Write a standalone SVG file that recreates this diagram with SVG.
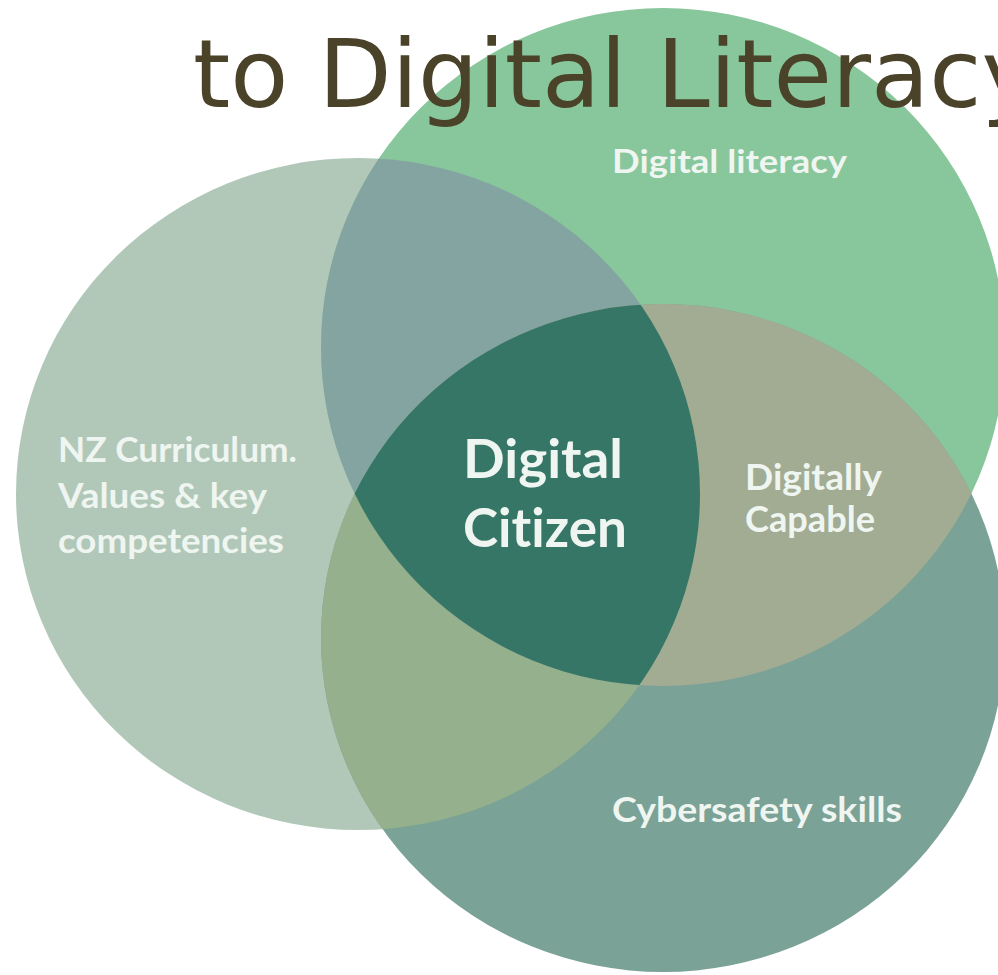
<svg xmlns="http://www.w3.org/2000/svg" width="998" height="975" viewBox="0 0 998 975">
  <style>
    .lbl { font-family: Lato, "Open Sans", "Liberation Sans", sans-serif; font-weight: 700; fill: #eff5f0; font-variant-ligatures: none; }
    .title { font-family: "DejaVu Sans", Verdana, sans-serif; fill: #4a4329; }
  </style>
  <defs>
    <clipPath id="clipA"><ellipse cx="358" cy="494" rx="342" ry="336"/></clipPath>
    <clipPath id="clipB"><ellipse cx="663" cy="347" rx="342" ry="339"/></clipPath>
    <clipPath id="clipC"><ellipse cx="663" cy="638" rx="342" ry="334"/></clipPath>
  </defs>
  <rect x="0" y="0" width="998" height="975" fill="#ffffff"/>

  <g id="circle-nz-curriculum">
    <ellipse cx="358" cy="494" rx="342" ry="336" fill="#b1c8b8"/>
  </g>
  <g id="circle-digital-literacy">
    <ellipse cx="663" cy="347" rx="342" ry="339" fill="#88c69c"/>
  </g>
  <g id="circle-cybersafety">
    <ellipse cx="663" cy="638" rx="342" ry="334" fill="#7aa296"/>
  </g>

  <g id="overlap-nz-literacy" clip-path="url(#clipA)">
    <ellipse cx="663" cy="347" rx="342" ry="339" fill="#84a4a1"/>
  </g>
  <g id="overlap-nz-cybersafety" clip-path="url(#clipA)">
    <ellipse cx="663" cy="638" rx="342" ry="334" fill="#94b08d"/>
  </g>
  <g id="overlap-digitally-capable" clip-path="url(#clipB)">
    <ellipse cx="663" cy="638" rx="342" ry="334" fill="#a2ac93"/>
  </g>
  <g id="overlap-digital-citizen" clip-path="url(#clipA)">
    <g clip-path="url(#clipB)">
      <ellipse cx="663" cy="638" rx="342" ry="334" fill="#367666"/>
    </g>
  </g>

  <g id="title">
    <text class="title" x="193" y="107" font-size="95">to Digital Literacy</text>
  </g>

  <g id="labels">
    <text class="lbl" x="612" y="173" font-size="32" textLength="235" lengthAdjust="spacingAndGlyphs">Digital literacy</text>
    <text class="lbl" x="58" y="462" font-size="34" textLength="239" lengthAdjust="spacingAndGlyphs">NZ Curriculum.</text>
    <text class="lbl" x="58" y="508" font-size="34" textLength="209" lengthAdjust="spacingAndGlyphs">Values &amp; key</text>
    <text class="lbl" x="58" y="553" font-size="34" textLength="226" lengthAdjust="spacingAndGlyphs">competencies</text>
    <text class="lbl" x="463" y="478" font-size="53" textLength="160" lengthAdjust="spacingAndGlyphs">Digital</text>
    <text class="lbl" x="463" y="547" font-size="53" textLength="164" lengthAdjust="spacingAndGlyphs">Citizen</text>
    <text class="lbl" x="745" y="490" font-size="36" textLength="137" lengthAdjust="spacingAndGlyphs">Digitally</text>
    <text class="lbl" x="745" y="532" font-size="36" textLength="130" lengthAdjust="spacingAndGlyphs">Capable</text>
    <text class="lbl" x="612" y="822" font-size="34" textLength="290" lengthAdjust="spacingAndGlyphs">Cybersafety skills</text>
  </g>
</svg>
